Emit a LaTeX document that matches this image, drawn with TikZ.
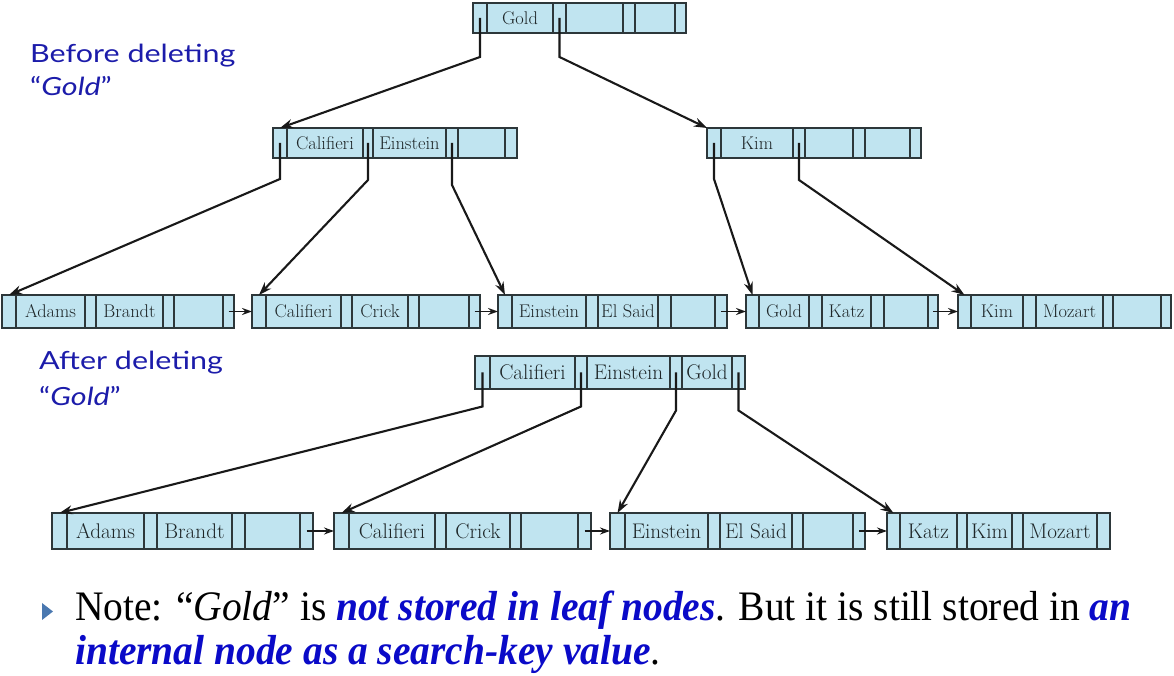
\documentclass[tikz,border=0pt]{standalone}
\usepackage{fontspec}
\newfontfamily\labelfont[FakeStretch=1.22]{Lato}
\newfontfamily\notefont[FakeStretch=0.94]{Liberation Serif}
\usetikzlibrary{positioning,arrows.meta}

\definecolor{cellblue}{RGB}{192,228,240}
\definecolor{cellline}{RGB}{45,55,58}
\definecolor{celltext}{RGB}{30,38,40}
\definecolor{labelblue}{RGB}{28,28,170}
\definecolor{noteblue}{RGB}{10,10,200}
\definecolor{bulletblue}{RGB}{74,120,176}

\tikzset{
  cell/.style={draw=cellline, fill=cellblue, line width=1.4pt, inner sep=0pt, outer sep=0pt, text=celltext},
  smallkeys/.style={font=\fontsize{18.4}{20}\selectfont},
  bigkeys/.style={font=\fontsize{21.2}{23}\selectfont},
  down/.style={->, >={Stealth[length=13pt, width=9pt]}, line width=2.1pt, draw=black!90},
  next/.style={->, >={Stealth[length=10pt, width=7pt]}, line width=1.7pt, draw=black!90},
  sidelabel/.style={anchor=base west, inner sep=0pt, text=labelblue, font=\labelfont\fontsize{25}{33}\selectfont},
  notetext/.style={anchor=base west, inner sep=0pt, font=\notefont\fontsize{42}{45}\selectfont},
}

% one tree node: key style, name, upper left corner, height, cells as width/key
\newcommand{\btnode}[5]{%
  \foreach \w/\k [count=\i, remember=\i as \lasti (initially 0)] in {#5} {
    \ifnum\i=1
      \node[cell, #1, anchor=north west, minimum width=\w, minimum height=#4] (#2-\i) at (#3) {\k};
    \else
      \node[cell, #1, minimum width=\w, minimum height=#4, right=0pt of #2-\lasti] (#2-\i) {\k};
    \fi
  }%
}

\begin{document}
\begin{tikzpicture}[x=1pt, y=1pt]
  \useasboundingbox (0,0) rectangle (1174,676);

  % before deleting
  \node[sidelabel] (before) at (30,613) {Before deleting};
  \node[sidelabel] (beforegold) at (30,580) {“\textit{Gold}”};
  \btnode{smallkeys}{root}{473,673}{30}{14/,66/Gold,13/,57/,12/,40/,11/}
  \btnode{smallkeys}{ci}{273,548}{30}{14/,76/Califieri,10/,73/Einstein,12/,47/,12/}
  \btnode{smallkeys}{ki}{707,548}{30}{14/,72/Kim,12/,48/,12/,45/,11/}
  \btnode{smallkeys}{la}{2,381}{33}{14/,69/Adams,11/,67/Brandt,11/,49/,11/}
  \btnode{smallkeys}{lc}{252,381}{33}{14/,75/Califieri,11/,56/Crick,11/,50/,11/}
  \btnode{smallkeys}{le}{498,381}{33}{14/,74/Einstein,12/,60/El Said,13/,44/,12/}
  \btnode{smallkeys}{lg}{746,381}{33}{13/,50/Gold,13/,49/Katz,13/,44/,10/}
  \btnode{smallkeys}{lk}{958,381}{33}{13/,52/Kim,13/,67/Mozart,10/,48/,10/}

  \draw[down] (root-1.center) -- ++(0,-39) -- (ci-1.north);
  \draw[down] (root-3.center) -- ++(0,-39) -- (ki-1.north west);
  \draw[down] (ci-1.center) -- ++(0,-36) -- (la-1.north);
  \draw[down] (ci-3.center) -- ++(0,-37) -- (lc-1.north);
  \draw[down] (ci-5.center) -- ++(0,-42) -- (le-1.north);
  \draw[down] (ki-1.center) -- ++(0,-36) -- (lg-1.north);
  \draw[down] (ki-3.center) -- ++(0,-37) -- (lk-1.north);
  \draw[next] (la-7.center) -- (lc-1.west);
  \draw[next] (lc-7.center) -- (le-1.west);
  \draw[next] (le-7.center) -- (lg-1.west);
  \draw[next] (lg-7.center) -- (lk-1.west);

  % after deleting
  \node[sidelabel] (after) at (39,306) {After deleting};
  \node[sidelabel] (aftergold) at (39,270) {“\textit{Gold}”};
  \btnode{bigkeys}{nroot}{475,320}{33}{15/,85/Califieri,12/,83/Einstein,12/,50/Gold,13/}
  \btnode{bigkeys}{na}{52,163}{36}{15/,77/Adams,13/,75/Brandt,13/,55/,13/}
  \btnode{bigkeys}{nc}{334,163}{36}{15/,86/Califieri,11/,64/Crick,11/,57/,13/}
  \btnode{bigkeys}{ne}{610,163}{36}{15/,83/Einstein,12/,72/El Said,11/,50/,12/}
  \btnode{bigkeys}{nk}{887,163}{36}{13/,57/Katz,10/,45/Kim,11/,74/Mozart,13/}

  \draw[down] (nroot-1.center) -- ++(0,-34) -- (na-1.north);
  \draw[down] (nroot-3.center) -- ++(0,-34) -- (nc-1.north);
  \draw[down] (nroot-5.center) -- ++(0,-38) -- (ne-1.north);
  \draw[down] (nroot-7.center) -- ++(0,-38) -- (nk-1.north);
  \draw[next] (na-7.center) -- (nc-1.west);
  \draw[next] (nc-7.center) -- (ne-1.west);
  \draw[next] (ne-7.center) -- (nk-1.west);

  % note
  \fill[bulletblue] (42,73) -- (53,64.5) -- (42,56) -- cycle;
  \node[notetext] (note1) at (75,55) {Note: “\textit{Gold}” is \textcolor{noteblue}{\textbf{\textit{not stored in leaf nodes}}}. But it is still stored in \textcolor{noteblue}{\textbf{\textit{an}}}};
  \node[notetext] (note2) at (75,11) {\textcolor{noteblue}{\textbf{\textit{internal node as a search-key value}}}.};
\end{tikzpicture}
\end{document}
